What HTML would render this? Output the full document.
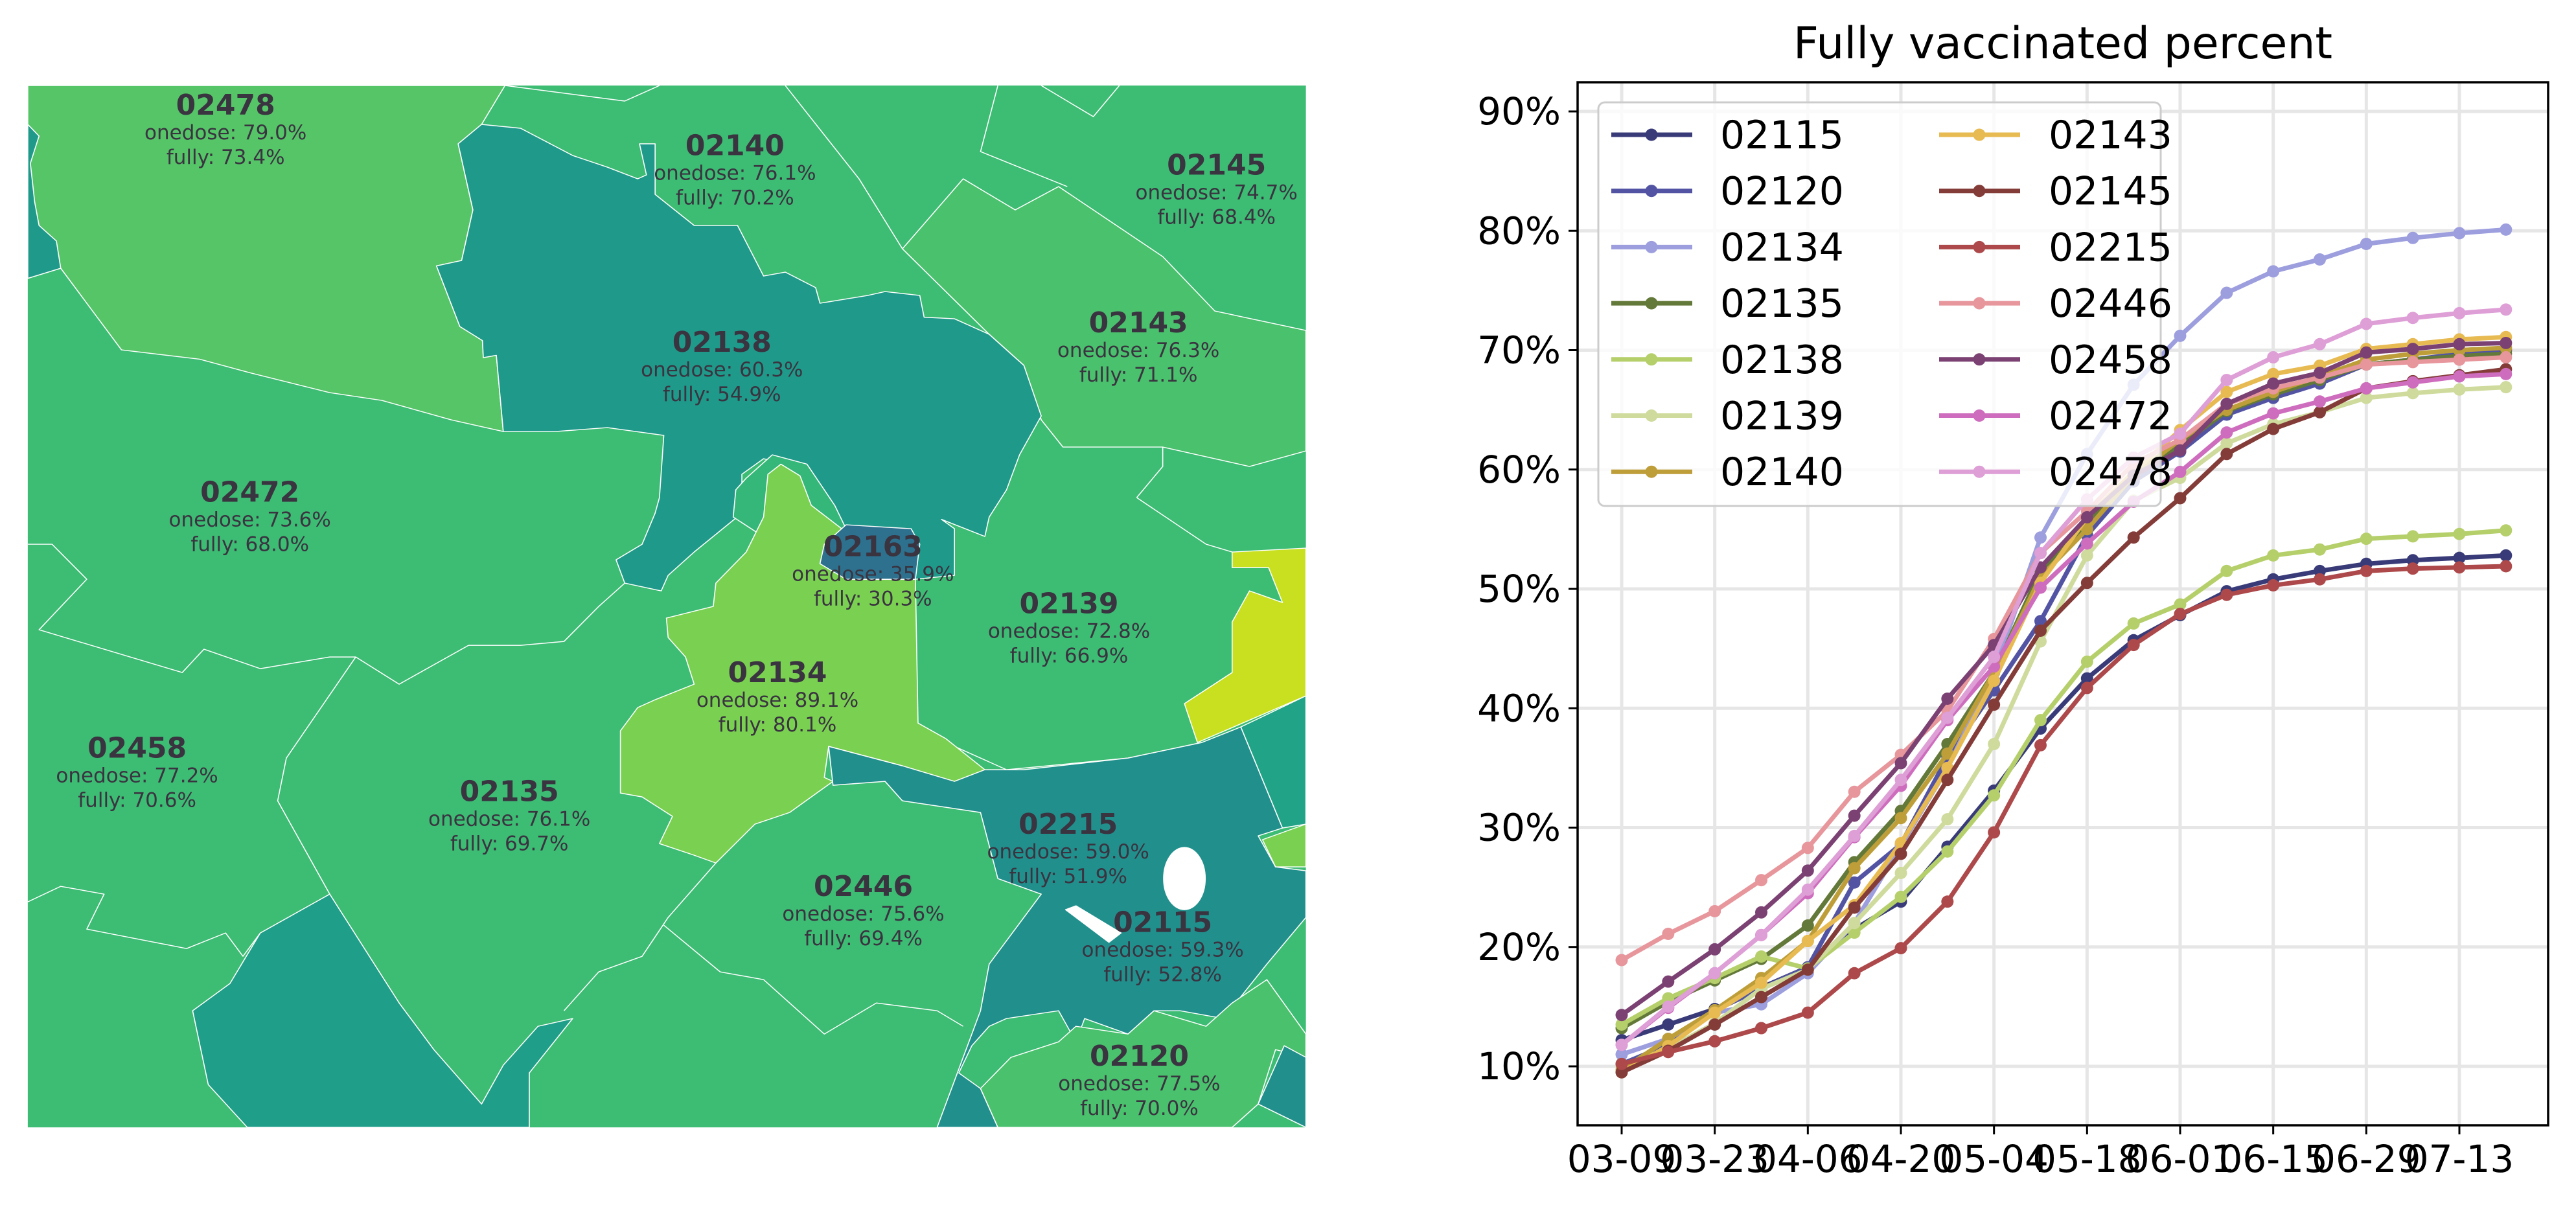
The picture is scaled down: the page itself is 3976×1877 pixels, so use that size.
<!DOCTYPE html>
<html><head><meta charset="utf-8"><style>
html,body{margin:0;padding:0;background:#fff;}
#root{position:relative;width:3976px;height:1877px;overflow:hidden;font-family:"DejaVu Sans","Liberation Sans",sans-serif;}
svg{position:absolute;left:0;top:0;}
</style></head><body>
<div id="root">
<svg id="map" width="2100" height="1877" viewBox="0 0 1568 1564" preserveAspectRatio="none">
<g stroke="#ffffff" stroke-width="1.2" stroke-linejoin="round">
<rect x="32" y="110" width="1473" height="1340" fill="#3dbc74" stroke="none"/>
<polygon fill="#55c568" points="32,110 582,110 555,160 528,185 545,270 532,335 503,342 530,420 556,438 557,460 572,457 580,555 520,540 440,515 380,505 290,480 230,462 140,450 70,345 32,358"/>
<polygon fill="#1f9a8a" points="32,160 45,175 35,210 40,260 45,290 65,310 70,345 32,358"/>
<polygon fill="#4ac16d" points="1040,320 1110,230 1170,270 1220,240 1340,330 1400,400 1505,425 1505,580 1440,600 1340,575 1225,575 1200,540 1180,470 1140,430"/>
<polyline fill="none" points="582,110 720,130 760,110"/>
<polyline fill="none" points="905,110 990,230 1040,320"/>
<polyline fill="none" points="1150,110 1130,195 1230,240"/>
<polyline fill="none" points="1200,110 1260,150 1290,110"/>
<polyline fill="none" points="1310,640 1340,600 1340,575"/>
<polyline fill="none" points="1310,640 1390,700 1420,710"/>
<polyline fill="none" points="32,700 60,700 100,745 45,810 210,865 235,835 300,860 380,845 410,845 460,880 540,830 600,830 650,825 690,780 720,750"/>
<polyline fill="none" points="410,845 330,975 320,1030 380,1150"/>
<polyline fill="none" points="32,1160 70,1140 120,1150 100,1195 215,1220 260,1200 280,1230 300,1200"/>
<polyline fill="none" points="825,1110 770,1180 740,1230 690,1250 650,1300"/>
<polyline fill="none" points="765,1190 830,1250 880,1260 950,1330 1010,1290 1080,1300 1110,1320"/>
<polyline fill="none" points="1060,940 1160,990"/>
<polyline fill="none" points="1160,990 1300,975 1385,955"/>
<polygon fill="#1f9a8a" points="528,185 555,160 600,165 660,200 700,215 735,230 745,225 737,185 755,185 755,250 800,290 850,290 880,355 905,350 940,370 945,390 1000,380 1020,375 1060,380 1065,408 1100,410 1140,430 1180,470 1200,535 1175,585 1160,630 1140,665 1135,690 1085,668 1100,680 1100,740 1055,745 1050,700 1000,680 970,675 960,660 930,615 905,597 880,590 855,610 855,660 800,710 770,740 762,760 720,750 710,720 740,700 755,660 760,640 765,560 700,550 640,555 580,555 572,457 557,460 556,438 530,420 503,342 532,335 545,270"/>
<polygon fill="#35b779" points="860,615 890,585 930,597 962,650 975,680 960,700 900,705 845,665 848,630"/>
<polygon fill="#7ad151" points="900,597 922,612 935,650 970,680 950,710 945,725 1000,745 1055,745 1058,930 1090,950 1135,990 1100,1005 1040,985 955,960 950,1000 960,1005 910,1045 870,1060 825,1110 800,1100 760,1085 775,1050 740,1025 715,1020 715,940 735,910 755,900 800,880 790,845 770,820 768,795 822,780 825,750 860,710 880,665 885,610"/>
<polygon fill="#2d718e" points="975,675 1050,680 1060,700 1055,745 1000,745 975,745 945,725 950,700"/>
<polygon fill="#21908d" points="955,960 1040,985 1100,1005 1135,990 1180,990 1300,975 1385,955 1430,935 1478,1065 1450,1075 1470,1115 1505,1120 1505,1180 1460,1240 1410,1310 1360,1300 1330,1300 1300,1330 1250,1310 1240,1340 1220,1300 1160,1310 1140,1320 1120,1345 1105,1380 1130,1400 1150,1450 1080,1450 1130,1300 1140,1240 1200,1150 1150,1130 1130,1045 1040,1030 1020,1005 960,1010"/>
<ellipse cx="1365" cy="1130" rx="24" ry="40" fill="#ffffff"/>
<polygon fill="#ffffff" points="1228,1170 1240,1165 1292,1200 1278,1212"/>
<polygon fill="#c8e020" points="1420,710 1505,705 1505,895 1380,955 1365,905 1420,865 1420,800 1440,760 1478,775 1462,730 1420,730"/>
<polygon fill="#20a386" points="1430,935 1505,895 1505,1060 1478,1065"/>
<polygon fill="#7ad151" points="1455,1080 1505,1060 1505,1115 1470,1115"/>
<polygon fill="#4ac16d" points="1130,1400 1165,1360 1220,1340 1240,1320 1300,1330 1330,1300 1390,1320 1420,1290 1460,1260 1505,1330 1505,1360 1470,1350 1450,1420 1420,1450 1150,1450"/>
<polygon fill="#21908d" points="1450,1420 1480,1345 1505,1360 1505,1450"/>
<polygon fill="#1f9e89" points="222,1300 265,1265 300,1200 380,1150 460,1290 500,1350 555,1420 580,1370 620,1320 660,1310 610,1380 610,1450 285,1450 240,1395"/>
</g>
</svg>
<svg id="labels" width="2100" height="1877"></svg>
<svg id="chart" width="3976" height="1877" style="left:0;top:0"></svg>
</div>
<script>
// ---- map labels ----
const labelZips=["02478","02140","02145","02138","02143","02472","02163","02139","02134","02458","02135","02215","02446","02115","02120"];
const labelOnedose=["79.0","76.1","74.7","60.3","76.3","73.6","35.9","72.8","89.1","77.2","76.1","59.0","75.6","59.3","77.5"];
const labelFully=["73.4","70.2","68.4","54.9","71.1","68.0","30.3","66.9","80.1","70.6","69.7","51.9","69.4","52.8","70.0"];
const labelX=[260,847,1402,832,1312,288,1006,1232,896,158,587,1231,995,1340,1313];
const labelY=[135,187,212,440,415,633,703,776,865,962,1018,1060,1140,1186,1358];
const NS="http://www.w3.org/2000/svg";
const lab=document.getElementById('labels');
function mk(tag,attrs,parent){const e=document.createElementNS(NS,tag);for(const k in attrs)e.setAttribute(k,attrs[k]);parent.appendChild(e);return e;}
labelZips.forEach((z,i)=>{
  const cx=labelX[i]*2100/1568, cy=labelY[i]*1877/1564;
  const g=mk('g',{},lab);
  
  
  const t1=mk('text',{x:cx,y:cy+15,'text-anchor':'middle','font-size':44,'font-weight':'bold',fill:'#3a3340'},g);t1.textContent=z;
  const t2=mk('text',{x:cx,y:cy+53,'text-anchor':'middle','font-size':31,fill:'#3a3340'},g);t2.textContent='onedose: '+labelOnedose[i]+'%';
  const t3=mk('text',{x:cx,y:cy+91,'text-anchor':'middle','font-size':31,fill:'#3a3340'},g);t3.textContent='fully: '+labelFully[i]+'%';
});

// ---- chart data ----
const seriesNames=["02115","02120","02134","02135","02138","02139","02140","02143","02145","02215","02446","02458","02472","02478"];
const seriesColors=["#393b79","#5254a3","#9c9ede","#637939","#b5cf6b","#cedb9c","#bd9e39","#e7ba52","#843c39","#ad494a","#e7969c","#7b4173","#ce6dbd","#de9ed6"];
const xTickLabels=["03-09","03-23","04-06","04-20","05-04","05-18","06-01","06-15","06-29","07-13"];
const yTickValues=[10,20,30,40,50,60,70,80,90];
const s02115=[12.2,13.5,14.8,16.6,18.3,21.5,23.8,28.4,33.1,38.3,42.5,45.7,47.8,49.8,50.8,51.5,52.1,52.4,52.6,52.8];
const s02120=[10.2,11.8,14.7,16.5,18.3,25.4,28.6,35.9,41.5,47.3,54.5,59.0,61.5,64.6,66.0,67.2,68.8,69.2,69.7,70.0];
const s02134=[11.0,12.3,14.5,15.2,17.8,22.0,28.5,35.0,43.0,54.3,61.3,67.1,71.2,74.8,76.6,77.6,78.9,79.4,79.8,80.1];
const s02135=[13.2,15.4,17.2,19.0,21.8,27.1,31.4,37.0,43.0,51.5,55.5,59.5,62.0,64.9,66.3,67.5,68.8,69.2,69.5,69.7];
const s02138=[13.5,15.7,17.4,19.2,18.2,21.2,24.2,28.0,32.7,39.0,43.9,47.1,48.7,51.5,52.8,53.3,54.2,54.4,54.6,54.9];
const s02139=[10.0,11.5,13.6,16.5,18.1,22.0,26.2,30.7,37.0,45.6,52.8,57.4,59.3,62.2,63.8,64.8,66.0,66.4,66.7,66.9];
const s02140=[9.7,12.3,14.7,17.4,20.5,26.6,30.8,36.2,43.0,51.0,55.0,59.5,62.5,65.0,66.5,67.8,69.2,69.7,70.0,70.2];
const s02143=[9.5,11.7,14.5,17.0,20.5,23.5,28.7,35.0,42.3,50.5,56.0,59.8,63.3,66.5,68.0,68.7,70.1,70.5,70.9,71.1];
const s02145=[9.5,11.3,13.5,15.8,18.1,23.3,27.8,34.0,40.3,46.5,50.5,54.3,57.6,61.3,63.4,64.8,66.8,67.4,67.9,68.4];
const s02215=[10.2,11.2,12.1,13.2,14.5,17.8,19.9,23.8,29.6,36.9,41.7,45.3,47.9,49.5,50.3,50.8,51.5,51.7,51.8,51.9];
const s02446=[18.9,21.1,23.0,25.6,28.3,33.0,36.1,39.8,45.8,53.0,56.5,60.5,62.5,65.5,66.8,67.7,68.8,69.0,69.2,69.4];
const s02458=[14.3,17.1,19.8,22.9,26.4,31.0,35.4,40.8,45.3,51.8,56.0,59.5,61.6,65.5,67.2,68.1,69.8,70.1,70.5,70.6];
const s02472=[11.8,14.9,17.8,21.0,24.5,29.2,33.5,39.0,43.5,50.1,53.8,57.3,59.8,63.1,64.7,65.7,66.8,67.3,67.8,68.0];
const s02478=[11.8,15.0,17.8,21.0,24.8,29.3,34.0,39.2,44.3,53.0,57.5,61.0,63.0,67.5,69.4,70.5,72.2,72.7,73.1,73.4];
const seriesValues=[s02115,s02120,s02134,s02135,s02138,s02139,s02140,s02143,s02145,s02215,s02446,s02458,s02472,s02478];

// ---- chart drawing ----
const ch=document.getElementById('chart');
const AX={l:2435,r:3933,t:127,b:1737};
function xPos(i){return 2503+i*(3796-2503)/18;}
function yPos(v){return 1646-(v-10)*(1646-172)/80;}
mk('rect',{x:AX.l,y:AX.t,width:AX.r-AX.l,height:AX.b-AX.t,fill:'#fff'},ch);
const grid=mk('g',{stroke:'#e6e6e6','stroke-width':5},ch);

xTickLabels.forEach((t,k)=>{const x=xPos(k*2);mk('line',{x1:x,x2:x,y1:AX.t,y2:AX.b},grid);});
yTickValues.forEach(v=>{const y=yPos(v);mk('line',{x1:AX.l,x2:AX.r,y1:y,y2:y},grid);});
seriesValues.forEach((vals,si)=>{
  const g=mk('g',{},ch);
  
  
  const pts=vals.map((v,i)=>xPos(i)+','+yPos(v)).join(' ');
  mk('polyline',{points:pts,fill:'none',stroke:seriesColors[si],'stroke-width':7,'stroke-linejoin':'round'},g);
  vals.forEach((v,i)=>{mk('circle',{cx:xPos(i),cy:yPos(v),r:9.5,fill:seriesColors[si]},g);});
});
mk('rect',{x:AX.l,y:AX.t,width:AX.r-AX.l,height:AX.b-AX.t,fill:'none',stroke:'#000','stroke-width':3.5},ch);
const xa=mk('g',{},ch);
xTickLabels.forEach((t,k)=>{const x=xPos(k*2);mk('line',{x1:x,x2:x,y1:AX.b,y2:AX.b+14,stroke:'#000','stroke-width':3},xa);
  const tx=mk('text',{x:x,y:AX.b+72,'text-anchor':'middle','font-size':58,fill:'#000'},xa);tx.textContent=t;});
const ya=mk('g',{},ch);
yTickValues.forEach(v=>{const y=yPos(v);mk('line',{x1:AX.l-14,x2:AX.l,y1:y,y2:y,stroke:'#000','stroke-width':3},ya);
  const tx=mk('text',{x:AX.l-26,y:y+20,'text-anchor':'end','font-size':58,fill:'#000'},ya);tx.textContent=v+'%';});
const title=mk('text',{x:(AX.l+AX.r)/2,y:90,'text-anchor':'middle','font-size':68,fill:'#000'},ch);
title.textContent='Fully vaccinated percent';

// legend
const lg=mk('g',{},ch);
mk('rect',{x:2467,y:158,width:868,height:623,rx:10,fill:'#fff','fill-opacity':0.8,stroke:'#cccccc','stroke-width':3},lg);
seriesNames.forEach((n,i)=>{
  const col=i<7?0:1,row=i%7;
  const y=208+row*86.7;
  const lx=col?2993:2487;
  const e=mk('g',{},lg);
  
  
  mk('line',{x1:lx,x2:lx+125,y1:y,y2:y,stroke:seriesColors[i],'stroke-width':7},e);
  mk('circle',{cx:lx+62,cy:y,r:9.5,fill:seriesColors[i]},e);
  const t=mk('text',{x:col?3162:2655,y:y+21,'font-size':60,fill:'#000'},e);t.textContent=n;
});
</script>
</body></html>
